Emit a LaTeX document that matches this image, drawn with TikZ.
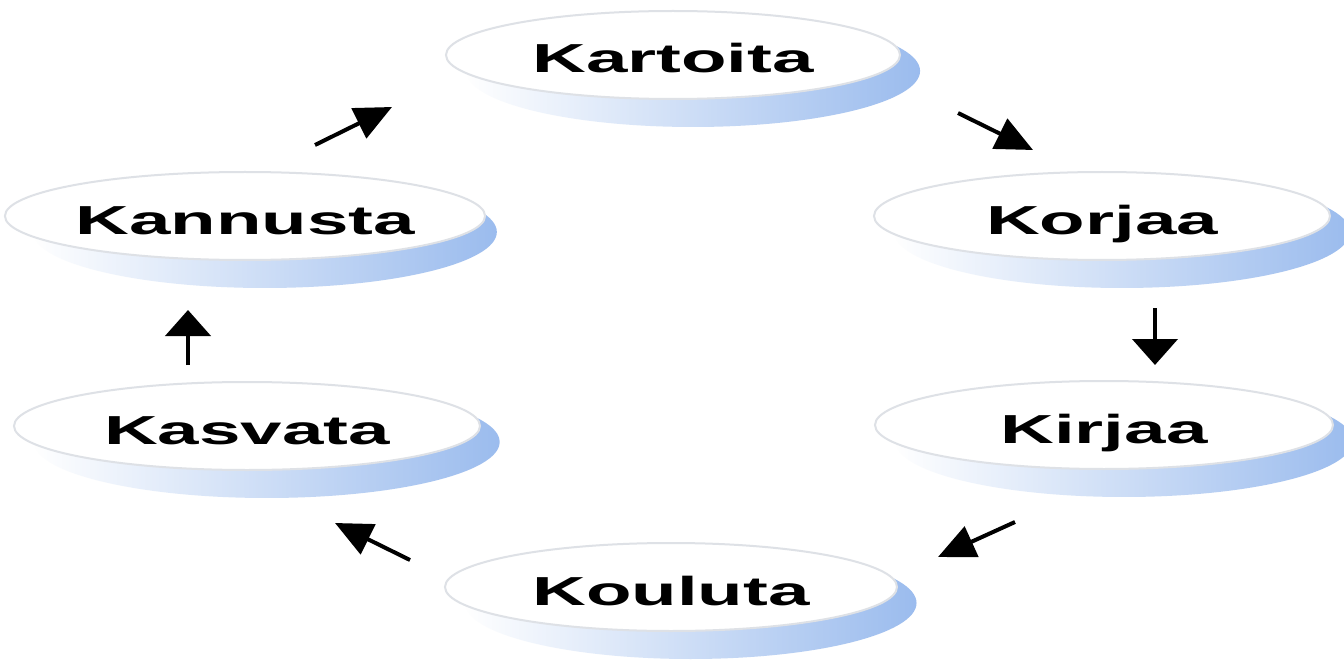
\documentclass[tikz,border=0pt]{standalone}
\usepackage{fontspec}
\setmainfont{Liberation Sans}
\usepackage{graphicx}
\usetikzlibrary{shapes.geometric,fadings,arrows.meta}
\definecolor{shblue}{RGB}{155,188,238}
\definecolor{rimgray}{RGB}{222,225,230}
\tikzfading[name=shfade, left color=transparent!100, middle color=transparent!30, right color=transparent!0]
\tikzset{
  stage/.style={ellipse, fill=white, draw=rimgray, line width=2pt, inner sep=0pt,
    text height=36pt, text depth=0pt, minimum height=88pt,
    font=\fontsize{40.5}{40.5}\selectfont\bfseries},
  stageshadow/.style={fill=shblue, path fading=shfade},
  flow/.style={line width=4pt, -{Triangle[length=37pt,width=33pt]}},
  vflow/.style={line width=4.5pt, -{Triangle[length=26pt,width=45pt]}}
}
\newcommand{\wide}[1]{\scalebox{1.84}[1]{#1}\hspace{8pt}}
\newcommand{\mkstage}[5]{%
  \fill[stageshadow] (#2+20,#3+16) ellipse [x radius=#4pt, y radius=56pt];
  \node[stage, minimum width=2*#4pt] (#1) at (#2,#3) {\wide{#5}};}
\begin{document}
\begin{tikzpicture}[x=1pt,y=-1pt]
\useasboundingbox (0,0) rectangle (1344,663);
\fill[white] (0,0) rectangle (1344,663);
\mkstage{kart}{673}{55}{227}{Kartoita}
\mkstage{korj}{1102}{216}{228}{Korjaa}
\mkstage{kann}{245}{216}{232}{Kannusta}
\mkstage{kirj}{1104}{425}{229}{Kirjaa}
\mkstage{kasv}{247}{426}{233}{Kasvata}
\mkstage{koul}{671}{587}{226}{Kouluta}
\coordinate (a1s) at (315,145); \coordinate (a1e) at (392,107);
\coordinate (a2s) at (958,113); \coordinate (a2e) at (1033,150);
\coordinate (a3s) at (1155,308); \coordinate (a3e) at (1155,365);
\coordinate (a4s) at (1015,522); \coordinate (a4e) at (938,557);
\coordinate (a5s) at (410,560); \coordinate (a5e) at (335,523);
\coordinate (a6s) at (188,365); \coordinate (a6e) at (188,310);
\draw[flow] (a1s) -- (a1e);
\draw[flow] (a2s) -- (a2e);
\draw[vflow] (a3s) -- (a3e);
\draw[flow] (a4s) -- (a4e);
\draw[flow] (a5s) -- (a5e);
\draw[vflow] (a6s) -- (a6e);
\end{tikzpicture}
\end{document}
